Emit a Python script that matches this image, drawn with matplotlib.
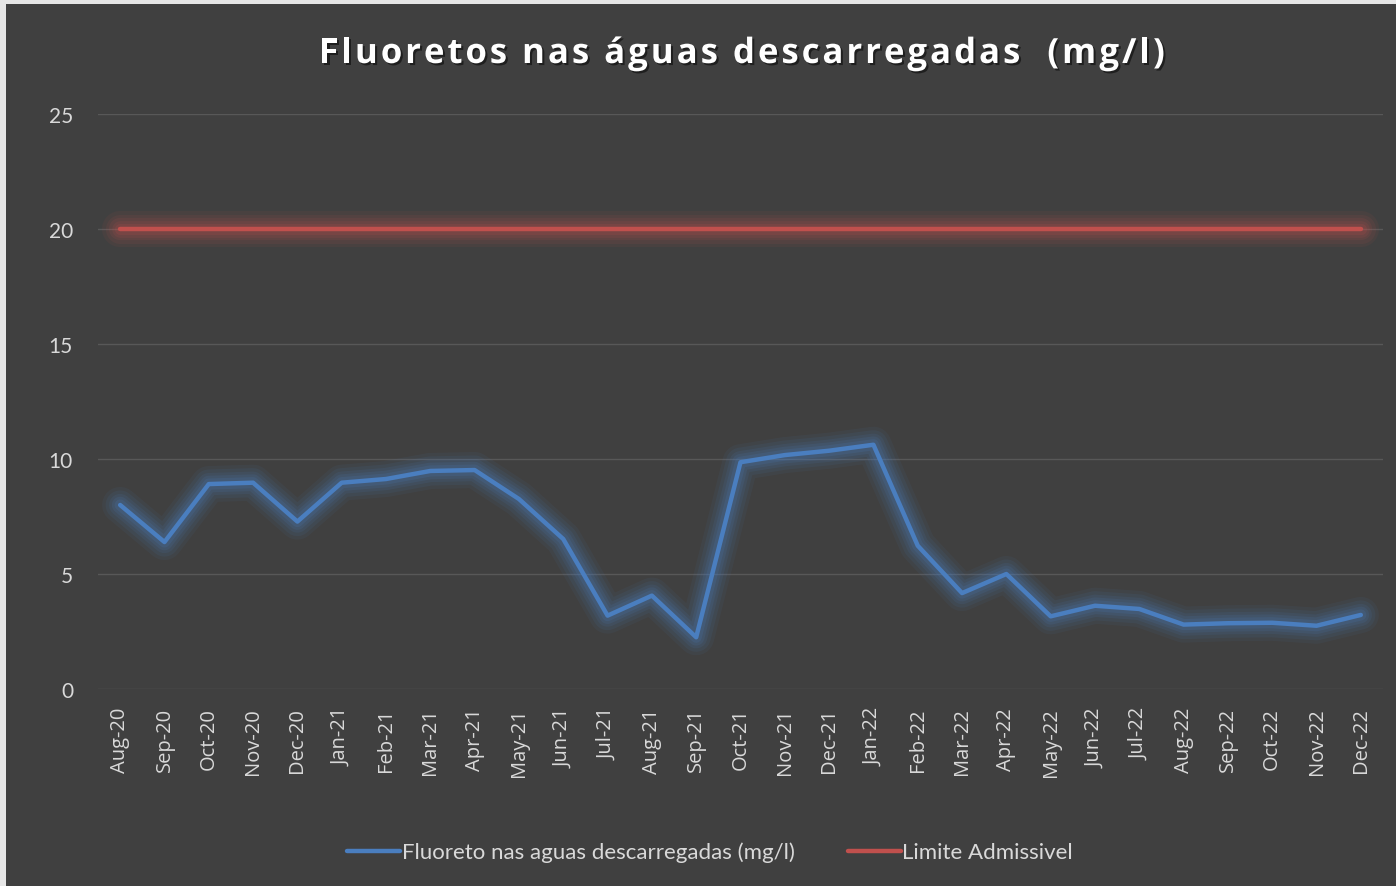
import matplotlib.pyplot as plt
import matplotlib.patheffects as pe
from matplotlib.patches import Rectangle

# dados
meses = ["Aug-20", "Sep-20", "Oct-20", "Nov-20", "Dec-20",
         "Jan-21", "Feb-21", "Mar-21", "Apr-21", "May-21", "Jun-21",
         "Jul-21", "Aug-21", "Sep-21", "Oct-21", "Nov-21", "Dec-21",
         "Jan-22", "Feb-22", "Mar-22", "Apr-22", "May-22", "Jun-22",
         "Jul-22", "Aug-22", "Sep-22", "Oct-22", "Nov-22", "Dec-22"]
fluoreto = [8.0, 6.39, 8.91, 8.97, 7.28,
            8.97, 9.13, 9.48, 9.52, 8.26, 6.52,
            3.19, 4.06, 2.25, 9.86, 10.17, 10.36,
            10.62, 6.23, 4.17, 5.0, 3.16, 3.62,
            3.48, 2.80, 2.86, 2.88, 2.75, 3.22]
limite = [20] * len(meses)
titulo = "Fluoretos nas águas descarregadas  (mg/l)"

bg = "#404040"
azul = "#4a7ebf"
vermelho = "#c0504d"
cinza = "#d9d9d9"

fig = plt.figure(figsize=(13.96, 8.87), dpi=100, facecolor="#e6e6e6")
fig.patches.append(Rectangle((6 / 1396, 0), 1, 1 - 5 / 887, transform=fig.transFigure,
                             facecolor=bg, edgecolor="none", zorder=-10))

ax = fig.add_axes([98 / 1396, 1 - 690 / 887, 1285 / 1396, 575 / 887])
ax.patch.set_alpha(0)

x = range(len(meses))

# brilho (glow) por tras das linhas
for w, a in [(26, 0.07), (21, 0.09), (16, 0.11), (12, 0.13), (8, 0.16)]:
    ax.plot(x, limite, color=vermelho, lw=w, alpha=a, solid_capstyle="round", zorder=2)
    ax.plot(x, fluoreto, color=azul, lw=w, alpha=a, solid_capstyle="round",
            solid_joinstyle="round", zorder=2)

ax.plot(x, fluoreto, color=azul, lw=3.2, solid_capstyle="round", solid_joinstyle="round",
        zorder=4, label="Fluoreto nas aguas descarregadas (mg/l)")
ax.plot(x, limite, color=vermelho, lw=3.2, solid_capstyle="round", zorder=3,
        label="Limite Admissivel")

ax.set_xlim(-0.5, len(meses) - 0.5)
ax.set_ylim(0, 25)
ax.set_yticks([0, 5, 10, 15, 20, 25])
ax.set_xticks(list(x))
ax.set_xticklabels(meses, rotation=90, fontsize=14.5, color=cinza, family="Open Sans")
for lbl in ax.get_yticklabels():
    lbl.set_family("Lato")
ax.tick_params(axis="y", labelsize=15, colors=cinza, length=0, pad=18)
ax.tick_params(axis="x", length=0, pad=13)
ax.grid(axis="y", color="#585858", lw=1)
ax.set_axisbelow(True)
for s in ax.spines.values():
    s.set_visible(False)

# titulo com espacamento entre letras
r = fig.canvas.get_renderer()
kw = dict(fontsize=25, fontweight="bold", color="white", family="Open Sans", va="center")
sombra = [pe.withSimplePatchShadow(offset=(1.5, -1.5), shadow_rgbFace="black", alpha=0.5)]
track = 3.0
larguras = []
for c in titulo:
    t = fig.text(0, 0, c if c != " " else "a", **kw)
    w = t.get_window_extent(r).width
    if c == " ":
        t2 = fig.text(0, 0, "a a", **kw)
        w = t2.get_window_extent(r).width - 2 * w
        t2.remove()
    t.remove()
    larguras.append(w + track)
total = sum(larguras) - track
px = 742 - total / 2
for c, w in zip(titulo, larguras):
    fig.text(px / 1396, 1 - 55 / 887, c, ha="left", path_effects=sombra, **kw)
    px += w

leg = fig.legend(loc="center", bbox_to_anchor=(710 / 1396, 1 - 853 / 887), ncol=2,
                 frameon=False, fontsize=16, handlelength=2.4, handletextpad=0.05,
                 columnspacing=2.4)
for t in leg.get_texts():
    t.set_color(cinza)
    t.set_family("Lato")

fig.savefig("out.png", dpi=100, facecolor=fig.get_facecolor())
